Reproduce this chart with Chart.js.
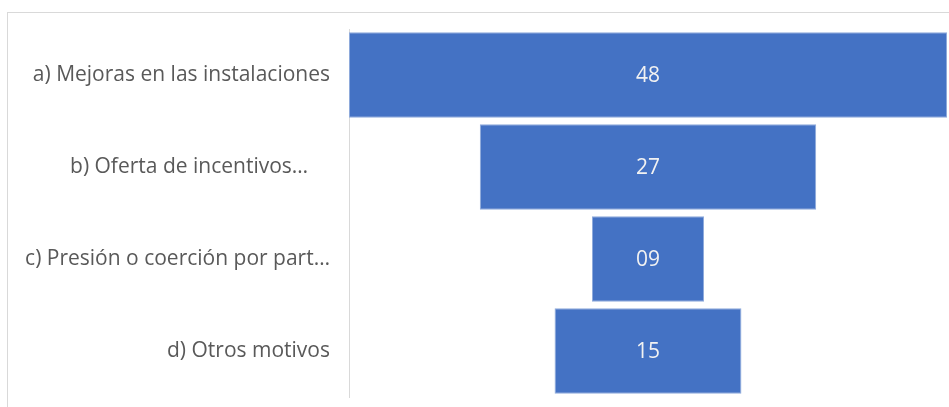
<!DOCTYPE html>
<html lang="es">
<head>
  <meta charset="UTF-8">
  <title>Embudo</title>
  <style>
    html, body { margin: 0; padding: 0; background: #fff; }
    #wrap { position: relative; width: 949px; height: 407px; overflow: hidden; }
    #frame { position: absolute; left: 7px; top: 12px; width: 1000px; height: 500px; border-left: 1px solid #d9d9d9; border-top: 1px solid #d9d9d9; }
    canvas { position: absolute; left: 0; top: 0; }
  </style>
</head>
<body>
  <div id="wrap">
    <div id="frame"></div>
    <canvas id="chart" width="949" height="407"></canvas>
  </div>

  <script src="https://cdn.jsdelivr.net/npm/chart.js"></script>
  <script>
    const categories = [
      'a) Mejoras en las instalaciones',
      'b) Oferta de incentivos…\u00A0\u00A0\u00A0\u00A0',
      'c) Presión o coerción por part…',
      'd) Otros motivos'
    ];
    const values = [48, 27, 9, 15];
    const valueLabels = ['48', '27', '09', '15'];
    const maxValue = 48;

    // barras flotantes centradas en 0 para hacer el embudo
    const funnelData = values.map(v => [-v / 2, v / 2]);

    const labelPlugin = {
      id: 'valueLabels',
      afterDatasetsDraw(chart) {
        const ctx = chart.ctx;
        const meta = chart.getDatasetMeta(0);
        ctx.save();
        ctx.fillStyle = '#f2f2f2';
        ctx.font = '21px "Open Sans", sans-serif';
        ctx.textAlign = 'center';
        ctx.textBaseline = 'middle';
        meta.data.forEach((bar, i) => {
          const c = bar.getCenterPoint();
          ctx.fillText(valueLabels[i], c.x, c.y + 1);
        });
        ctx.restore();
      }
    };

    new Chart(document.getElementById('chart').getContext('2d'), {
      type: 'bar',
      data: {
        labels: categories,
        datasets: [{
          data: funnelData,
          backgroundColor: '#4472c4',
          borderColor: '#8eaadb',
          borderWidth: 1,
          borderSkipped: false,
          categoryPercentage: 1,
          barPercentage: 0.93
        }]
      },
      options: {
        indexAxis: 'y',
        responsive: false,
        animation: false,
        layout: { padding: { top: 29, bottom: 10, right: 2, left: 0 } },
        plugins: { legend: { display: false }, tooltip: { enabled: false } },
        scales: {
          x: { display: false, min: -maxValue / 2, max: maxValue / 2 },
          y: {
            afterFit: s => { s.width = 349; s.paddingTop = 0; s.paddingBottom = 0; },
            grid: { display: false, drawTicks: false },
            border: { display: true, color: '#d9d9d9', width: 1 },
            ticks: {
              padding: 19,
              color: '#595959',
              font: { family: '"Open Sans", sans-serif', size: 21 }
            }
          }
        }
      },
      plugins: [labelPlugin]
    });
  </script>
</body>
</html>
